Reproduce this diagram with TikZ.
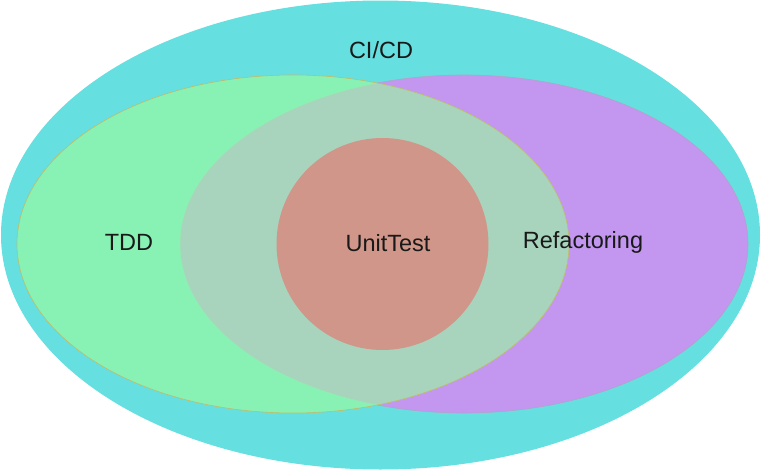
\documentclass[tikz,border=0pt]{standalone}
\usepackage{fontspec}
\setmainfont{Liberation Sans}
\definecolor{cicd}{RGB}{102,223,224}
\definecolor{tdd}{RGB}{136,242,180}
\definecolor{refac}{RGB}{195,150,240}
\definecolor{both}{RGB}{168,212,190}
\definecolor{unit}{RGB}{208,150,137}
\definecolor{tddedge}{RGB}{196,186,100}
\definecolor{refedge}{RGB}{175,165,200}
\definecolor{softedge}{RGB}{150,235,175}
\tikzset{lbl/.style={font=\fontsize{23.5}{26}\selectfont, text=black!90, inner sep=0pt}}
\begin{document}
\begin{tikzpicture}[x=1pt,y=-1pt]
\useasboundingbox (0,0) rectangle (761,471);
\fill[cicd] (380.5,235) ellipse [x radius=379.5, y radius=234.5];
\fill[refac] (464,244) ellipse [x radius=284, y radius=169];
\draw[refedge, line width=0.6pt] (464,244) ellipse [x radius=284, y radius=169];
\fill[tdd] (293,244) ellipse [x radius=276, y radius=169];
\begin{scope}
\clip (293,244) ellipse [x radius=276, y radius=169];
\fill[both] (464,244) ellipse [x radius=284, y radius=169];
\draw[softedge, line width=0.5pt] (464,244) ellipse [x radius=284, y radius=169];
\end{scope}
\draw[tddedge, line width=0.6pt] (293,244) ellipse [x radius=276, y radius=169];
\fill[unit] (382.5,244) circle [radius=106];
\node[lbl] (cicd) at (381,50) {CI/CD};
\node[lbl] (tdd) at (129,242) {TDD};
\node[lbl] (unittest) at (388,243) {UnitTest};
\node[lbl] (refactoring) at (583,242) {Refactoring};
\end{tikzpicture}
\end{document}
